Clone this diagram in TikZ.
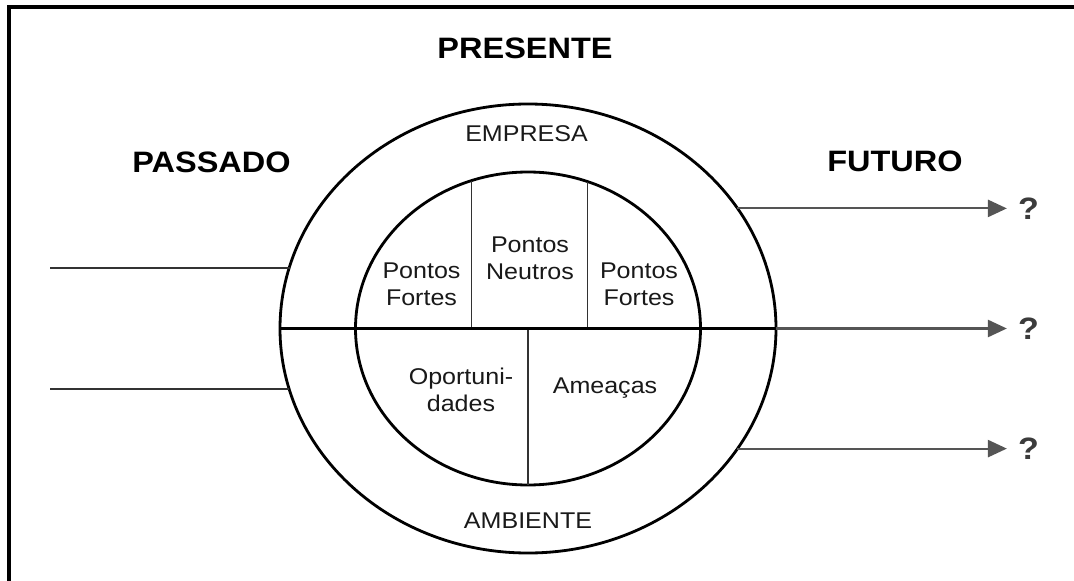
\documentclass[tikz,border=0pt]{standalone}
\usepackage{fontspec}
\setmainfont{Liberation Sans}[FakeStretch=1.1]
\usetikzlibrary{shapes.geometric,arrows.meta}
\definecolor{arrowgray}{RGB}{85,85,85}
\definecolor{linegray}{RGB}{50,50,50}
\definecolor{qgray}{RGB}{60,60,60}
\definecolor{ink}{RGB}{25,25,25}
\begin{document}
\begin{tikzpicture}[
  ring/.style={draw, ellipse, inner sep=0pt, outer sep=0pt, line width=2pt},
  title/.style={inner sep=0pt, text=black, font=\fontsize{21}{25}\selectfont\bfseries},
  txt/.style={inner sep=0pt, align=center, text=ink, font=\fontsize{16.2}{19.2}\selectfont},
  ask/.style={inner sep=0pt, text=qgray, font=\fontsize{22}{26}\selectfont\bfseries},
  past/.style={draw=linegray, line width=1.3pt},
  split/.style={draw=linegray, line width=0.8pt},
  future/.style={draw=arrowgray, line width=1.5pt, -{Triangle[length=0.475cm, width=0.43cm]}, shorten >=0.275cm}
]
\useasboundingbox (0,0) rectangle (26.85,-14.525);
\draw[line width=2.2pt] (0.225,-14.525) -- (0.225,-0.175) -- (26.85,-0.175);

\node[ring, minimum width=12.4cm, minimum height=11.225cm] (outer) at (13.2,-8.2125) {};
\node[ring, minimum width=8.625cm, minimum height=7.825cm] (inner) at (13.2,-8.2125) {};

\node[title] (presente) at (13.125,-1.2125) {PRESENTE};
\node[title] (passado) at (5.2875,-4.05) {PASSADO};
\node[title] (futuro) at (22.375,-4.0375) {FUTURO};

\node[txt] (empresa) at (13.1625,-3.35) {EMPRESA};
\node[txt] (forte1) at (10.5375,-7.1125) {Pontos\\Fortes};
\node[txt] (neutro) at (13.25,-6.446) {Pontos\\Neutros};
\node[txt] (forte2) at (15.975,-7.1125) {Pontos\\Fortes};
\node[txt] (oport) at (11.525,-9.7375) {Oportuni-\\dades};
\node[txt] (ameaca) at (15.125,-9.7) {Ameaças};
\node[txt] (ambiente) at (13.2,-13.025) {AMBIENTE};

\node[ask] (q1) at (25.7125,-5.21) {?};
\node[ask] (q2) at (25.7125,-8.2125) {?};
\node[ask] (q3) at (25.7125,-11.215) {?};

\coordinate (w1) at (1.25,-6.7075);
\coordinate (w2) at (1.25,-9.7175);

\path[split] (inner.111.3) -- (inner.111.3 |- inner.center);
\path[split] (inner.68.7) -- (inner.68.7 |- inner.center);
\path[split] (inner.center) -- (inner.south);
\path[draw,line width=1.6pt] (outer.west) -- (outer.east);

\path[past] (w1) -- (w1 -| outer.165.8);
\path[past] (w2) -- (w2 -| outer.194.2);

\path[future] (q1 -| outer.30) -- (q1.west);
\path[future] (outer.east) -- (q2.west);
\path[future] (q3 -| outer.-30) -- (q3.west);
\end{tikzpicture}
\end{document}
